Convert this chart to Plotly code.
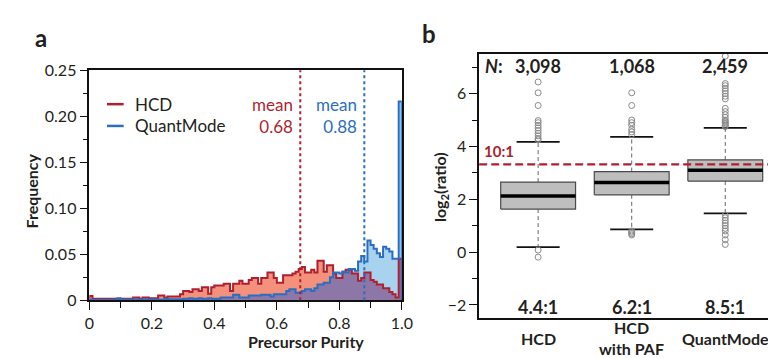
import numpy as np
import plotly.graph_objects as go

# ---------------- Panel a data: histogram of precursor purity (100 bins of 0.01)
hcd_freq = [0.0045] + [0.0015] * 13 + [
    0.003, 0.003, 0.0015, 0.003, 0.003, 0.002, 0.002, 0.002, 0.005, 0.005,
    0.003, 0.004, 0.004, 0.004, 0.004, 0.0065,
    0.010, 0.010, 0.009, 0.012, 0.012, 0.010, 0.014, 0.014, 0.007, 0.014,
    0.016, 0.016, 0.016, 0.018, 0.018, 0.010, 0.018, 0.018, 0.021, 0.018,
    0.018, 0.022, 0.024, 0.024, 0.018, 0.024, 0.024, 0.030, 0.030, 0.024,
    0.019, 0.019, 0.027, 0.027, 0.027, 0.029, 0.031, 0.034, 0.036, 0.030,
    0.030, 0.033, 0.030, 0.043, 0.043, 0.031, 0.038, 0.038, 0.029, 0.024,
    0.024, 0.031, 0.033, 0.033, 0.029, 0.029, 0.021, 0.024, 0.030, 0.030,
    0.022, 0.020, 0.017, 0.017, 0.013, 0.013, 0.009, 0.0065, 0.003, 0.045]

qm_freq = [0.0005] * 9 + [0.002] + [0.0008] * 14 + [0.0015] + [0.001] * 5 + [
    0.0015, 0.0015, 0.002, 0.0015, 0.0015, 0.002, 0.0015, 0.0015, 0.002, 0.0015,
    0.0015, 0.0015, 0.003, 0.003, 0.003, 0.003, 0.006, 0.006, 0.003, 0.003,
    0.003, 0.005, 0.005, 0.005, 0.005, 0.006, 0.006, 0.006, 0.004, 0.0065,
    0.0065, 0.0065, 0.0065, 0.010, 0.012, 0.012, 0.008, 0.008, 0.010, 0.012,
    0.012, 0.010, 0.013, 0.017, 0.017, 0.019, 0.019, 0.025, 0.030, 0.030,
    0.029, 0.031, 0.030, 0.034, 0.034, 0.032, 0.042, 0.048, 0.042, 0.065,
    0.060, 0.056, 0.051, 0.047, 0.058, 0.056, 0.053, 0.045, 0.045, 0.216]

series_names = ["HCD", "QuantMode"]
mean_purity = [0.675, 0.88]
mean_labels = ["0.68", "0.88"]

x_ticks_a = [0, 0.2, 0.4, 0.6, 0.8, 1.0]
x_ticktext_a = ["0", "0.2", "0.4", "0.6", "0.8", "1.0"]
y_ticks_a = [0, 0.05, 0.10, 0.15, 0.20, 0.25]
y_ticktext_a = ["0", "0.05", "0.10", "0.15", "0.20", "0.25"]

# ---------------- Panel b data: boxplots of log2(ratio)
categories = ["HCD", "HCD<br>with PAF", "QuantMode"]
n_labels = ["3,098", "1,068", "2,459"]
ratio_labels = ["4.4:1", "6.2:1", "8.5:1"]
q1 = [1.63, 2.17, 2.69]
median = [2.12, 2.64, 3.10]
q3 = [2.65, 3.05, 3.49]
lower_whisker = [0.19, 0.86, 1.47]
upper_whisker = [4.17, 4.36, 4.70]
outliers_hcd = [6.44, 6.03, 5.55, 4.98, 4.9, 4.8, 4.7, 4.6, 4.5, 4.4, 4.3, 4.25, 0.08, -0.19]
outliers_paf = [6.03, 5.55, 5.0, 4.9, 4.8, 4.65, 4.55, 4.45, 0.80, 0.75, 0.70, 0.65]
outliers_qm = [7.42, 6.38, 6.3, 6.2, 6.1, 6.0, 5.9, 5.8, 5.44, 5.32, 5.2, 5.1, 5.0, 4.95,
               4.9, 4.85, 4.8, 4.75, 1.4, 1.3, 1.2, 1.1, 1.0, 0.9, 0.8, 0.65, 0.47, 0.29]
outliers = [outliers_hcd, outliers_paf, outliers_qm]
ten_to_one = float(np.log2(10))

# ---------------- style
FONT = "Lato"
TXT = "#231F20"
RED = "#B01F2E"
BLUE = "#2A6EC2"
RED_FILL = "#F4917C"
BLUE_FILL = "#A8D3EE"
PURPLE_FILL = "#8C77A6"

fig = go.Figure()

# histogram step traces
edges = np.arange(len(hcd_freq) + 1) / len(hcd_freq)
xs = np.concatenate([[0.0], edges])
def step_y(v):
    return np.concatenate([[0.0], v, [0.0]])

hcd = np.array(hcd_freq)
qm = np.array(qm_freq)
overlap = np.minimum(hcd, qm)

fig.add_trace(go.Scatter(x=xs, y=step_y(qm), mode="lines", line=dict(shape="hv", width=0),
                         fill="tozeroy", fillcolor=BLUE_FILL, showlegend=False, hoverinfo="skip"))
fig.add_trace(go.Scatter(x=xs, y=step_y(hcd), mode="lines", line=dict(shape="hv", width=0),
                         fill="tozeroy", fillcolor=RED_FILL, showlegend=False, hoverinfo="skip"))
fig.add_trace(go.Scatter(x=xs, y=step_y(overlap), mode="lines", line=dict(shape="hv", width=0),
                         fill="tozeroy", fillcolor=PURPLE_FILL, showlegend=False, hoverinfo="skip"))
fig.add_trace(go.Scatter(x=xs, y=step_y(hcd), mode="lines", line=dict(shape="hv", width=2, color=RED),
                         name=series_names[0], showlegend=False))
fig.add_trace(go.Scatter(x=xs, y=step_y(qm), mode="lines", line=dict(shape="hv", width=2, color=BLUE),
                         name=series_names[1], showlegend=False))

# mean lines
for m, col, lab in zip(mean_purity, [RED, BLUE], mean_labels):
    fig.add_shape(type="line", xref="x", yref="y domain", x0=m, x1=m, y0=0, y1=1,
                  line=dict(color=col, width=2, dash="dot"))
    fig.add_annotation(xref="x", yref="paper", x=m, y=0.711, xshift=-5, xanchor="right",
                       yanchor="middle", align="right", showarrow=False,
                       text="mean<br>" + lab, font=dict(family=FONT, size=17, color=col))

# manual legend
for i, (nm, col) in enumerate(zip(series_names, [RED, BLUE])):
    yl = 0.7458 - i * 0.0642
    fig.add_shape(type="line", xref="paper", yref="paper", x0=0.1237, x1=0.1456, y0=yl, y1=yl,
                  line=dict(color=col, width=2.5))
    fig.add_annotation(xref="paper", yref="paper", x=0.1585, y=yl, xanchor="left", yanchor="middle",
                       showarrow=False, text=nm, font=dict(family=FONT, size=17, color=TXT))

# ---------------- Panel b: boxes drawn on x2/y2
BW = 0.4
CW = 0.23
for i in range(len(categories)):
    # whiskers (dashed)
    fig.add_trace(go.Scatter(x=[i, i, None, i, i], y=[q3[i], upper_whisker[i], None, q1[i], lower_whisker[i]],
                             xaxis="x2", yaxis="y2", mode="lines",
                             line=dict(color="#666666", width=1, dash="4px,3px"),
                             showlegend=False, hoverinfo="skip"))
    # caps
    fig.add_trace(go.Scatter(x=[i - CW, i + CW, None, i - CW, i + CW],
                             y=[upper_whisker[i], upper_whisker[i], None, lower_whisker[i], lower_whisker[i]],
                             xaxis="x2", yaxis="y2", mode="lines", line=dict(color="#111111", width=1.8),
                             showlegend=False, hoverinfo="skip"))
    # box
    fig.add_trace(go.Scatter(x=[i - BW, i + BW, i + BW, i - BW, i - BW],
                             y=[q1[i], q1[i], q3[i], q3[i], q1[i]],
                             xaxis="x2", yaxis="y2", mode="lines", fill="toself",
                             fillcolor="#BEBEBE", line=dict(color="#4A4A4A", width=1.2),
                             showlegend=False, hoverinfo="skip"))
    # median
    fig.add_trace(go.Scatter(x=[i - BW, i + BW], y=[median[i], median[i]],
                             xaxis="x2", yaxis="y2", mode="lines", line=dict(color="#000000", width=3.5),
                             showlegend=False, hoverinfo="skip"))
    # outliers
    fig.add_trace(go.Scatter(x=[i] * len(outliers[i]), y=outliers[i], xaxis="x2", yaxis="y2",
                             mode="markers",
                             marker=dict(symbol="circle-open", size=6, color="#8A8A8A", line=dict(width=1)),
                             showlegend=False, hoverinfo="skip"))
    # N labels and ratios
    fig.add_annotation(xref="x2", yref="y2", x=i, y=7.05, text="<b>" + n_labels[i] + "</b>",
                       showarrow=False, yanchor="middle", font=dict(family=FONT, size=18, color=TXT))
    fig.add_annotation(xref="x2", yref="y2", x=i, y=-2.08, text="<b>" + ratio_labels[i] + "</b>",
                       showarrow=False, yanchor="middle", font=dict(family=FONT, size=18, color=TXT))
    fig.add_annotation(xref="x2", yref="paper", x=i, y=0.0559, text="<b>" + categories[i] + "</b>",
                       showarrow=False, yanchor="middle", font=dict(family=FONT, size=16, color=TXT))

fig.add_annotation(xref="x2 domain", yref="y2", x=0.012, y=7.05, xanchor="left", yanchor="middle",
                   text="<b><i>N</i>:</b>", showarrow=False, font=dict(family=FONT, size=18, color=TXT))

# 10:1 line
fig.add_shape(type="line", xref="x2 domain", yref="y2", x0=0, x1=1, y0=ten_to_one, y1=ten_to_one,
              line=dict(color=RED, width=2.2, dash="8px,4px"))
fig.add_annotation(xref="x2 domain", yref="y2", x=0.01, y=ten_to_one, yshift=2, xanchor="left",
                   yanchor="bottom", text="<b>10:1</b>", showarrow=False,
                   font=dict(family=FONT, size=15, color=RED))

# titles / panel letters
fig.add_annotation(xref="paper", yref="paper", x=0.0245, y=0.49, text="<b>Frequency</b>", textangle=-90,
                   showarrow=False, xanchor="center", yanchor="middle", font=dict(family=FONT, size=16, color=TXT))
fig.add_annotation(xref="paper", yref="paper", x=0.306, y=0.0, yanchor="bottom", yshift=4,
                   text="<b>Precursor Purity</b>", showarrow=False, font=dict(family=FONT, size=16, color=TXT))
fig.add_annotation(xref="paper", yref="paper", x=0.5625, y=0.50, text="<b>log<sub>2</sub>(ratio)</b>",
                   textangle=-90, showarrow=False, xanchor="center", yanchor="middle",
                   font=dict(family=FONT, size=16, color=TXT))
fig.add_annotation(xref="paper", yref="paper", x=0.037, y=0.942, text="<b>a</b>", showarrow=False,
                   xanchor="center", yanchor="middle", font=dict(family=FONT, size=24, color=TXT))
fig.add_annotation(xref="paper", yref="paper", x=0.548, y=0.953, text="<b>b</b>", showarrow=False,
                   xanchor="center", yanchor="middle", font=dict(family=FONT, size=24, color=TXT))

axis_common = dict(showgrid=False, zeroline=False, linecolor="#111111", linewidth=1.5,
                   ticks="outside", tickcolor="#111111", tickwidth=1.3,
                   tickfont=dict(family=FONT, size=16, color=TXT))

fig.update_layout(
    width=776, height=358, margin=dict(l=0, r=0, t=0, b=0),
    paper_bgcolor="white", plot_bgcolor="white",
    xaxis=dict(domain=[0.1005, 0.5116], range=[0, 1.0], tickvals=x_ticks_a, ticktext=x_ticktext_a,
               showline=True, mirror=True, ticklen=8,
               minor=dict(dtick=0.1, ticks="outside", ticklen=6, tickcolor="#111111", tickwidth=1.3),
               anchor="y", **axis_common),
    yaxis=dict(domain=[0.1676, 0.846], range=[0, 0.25], tickvals=y_ticks_a, ticktext=y_ticktext_a,
               showline=True, mirror=True, ticklen=8,
               minor=dict(dtick=0.025, ticks="outside", ticklen=5, tickcolor="#111111", tickwidth=1.3),
               anchor="x", **axis_common),
    xaxis2=dict(domain=[0.6134, 1.0], range=[-0.63, 2.51], showline=True, mirror=True,
                showticklabels=False, ticks="", anchor="y2",
                showgrid=False, zeroline=False, linecolor="#111111", linewidth=1.5),
    yaxis2=dict(domain=[0.1145, 0.8939], range=[-2.5, 7.5], tickvals=[-2, 0, 2, 4, 6],
                showline=True, ticklen=8,
                minor=dict(dtick=1, ticks="outside", ticklen=5, tickcolor="#111111", tickwidth=1.3),
                anchor="x2", **axis_common),
)

fig.write_html("out.html")
